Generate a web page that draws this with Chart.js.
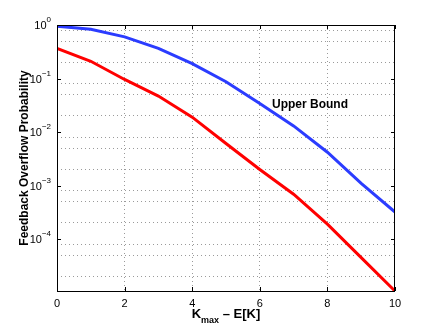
<!DOCTYPE html>
<html>
<head>
<meta charset="utf-8">
<script src="https://cdn.jsdelivr.net/npm/chart.js@4"></script>
<style>
  html, body { margin: 0; padding: 0; background: #fff; }
  canvas { display: block; }
</style>
</head>
<body>
<canvas id="chart" width="436" height="328"></canvas>
<script>
// data
var xValues = [0, 1, 2, 3, 4, 5, 6, 7, 8, 9, 10];
var upperBound = [0.95, 0.83, 0.60, 0.365, 0.19, 0.087, 0.034, 0.013, 0.0042, 0.0011, 0.00032];
var overflowProb = [0.365, 0.21, 0.096, 0.047, 0.019, 0.0061, 0.002, 0.00069, 0.00019, 0.000045, 0.0000107];
var xTicks = [0, 2, 4, 6, 8, 10];
var yDecades = [-4, -3, -2, -1, 0];
var yMin = 0.0000107, yMax = 1;

var FONT = 'Liberation Sans, Arial, Helvetica, sans-serif';

// frame, decade labels, x title, annotation
var extras = {
    id: 'extras',
    afterDraw: function (chart) {
        var c = chart.ctx, a = chart.chartArea, ys = chart.scales.y, xs = chart.scales.x;
        c.save();
        c.strokeStyle = '#000';
        c.lineWidth = 1;
        c.strokeRect(Math.round(a.left) + 0.5, Math.round(a.top) + 0.5,
            Math.round(a.right - a.left) - 1, Math.round(a.bottom - a.top));

        // inward tick marks
        c.beginPath();
        xTicks.forEach(function (t) {
            var px = Math.round(xs.getPixelForValue(t)) + 0.5;
            c.moveTo(px, a.bottom); c.lineTo(px, a.bottom - 4);
            c.moveTo(px, a.top); c.lineTo(px, a.top + 4);
        });
        yDecades.forEach(function (d) {
            var py = Math.round(ys.getPixelForValue(Math.pow(10, d))) + 0.5;
            c.moveTo(a.left, py); c.lineTo(a.left + 4, py);
            c.moveTo(a.right, py); c.lineTo(a.right - 4, py);
        });
        c.stroke();

        // y decade labels 10^n
        c.fillStyle = '#000';
        c.textBaseline = 'middle';
        yDecades.forEach(function (d) {
            var py = ys.getPixelForValue(Math.pow(10, d));
            var exp = d === 0 ? '0' : '\u2212' + (-d);
            c.font = '8px ' + FONT;
            var ew = c.measureText(exp).width;
            c.textAlign = 'right';
            c.fillText(exp, a.left - 6, py - 5);
            c.font = '11px ' + FONT;
            c.fillText('10', a.left - 6 - ew, py + 1);
        });

        // x axis title K_max - E[K]
        c.textAlign = 'left';
        c.textBaseline = 'alphabetic';
        var k = 'K', rest = ' \u2013 E[K]';
        c.font = 'bold 9px ' + FONT;
        var sw = c.measureText('max').width;
        c.font = 'bold 13px ' + FONT;
        var kw = c.measureText(k).width, rw = c.measureText(rest).width;
        var total = kw + sw + rw;
        var x0 = (a.left + a.right) / 2 - total / 2;
        c.fillText(k, x0, 318);
        c.font = 'bold 9px ' + FONT;
        c.fillText('max', x0 + kw, 323);
        c.font = 'bold 13px ' + FONT;
        c.fillText(rest, x0 + kw + sw, 318);

        // annotation
        c.font = 'bold 12px ' + FONT;
        c.textAlign = 'center';
        c.textBaseline = 'middle';
        c.fillText('Upper Bound', 310, 105);
        c.restore();
    }
};

var ctx = document.getElementById('chart').getContext('2d');
var chart = new Chart(ctx, {
    type: 'line',
    data: {
        datasets: [{
            label: 'Upper Bound',
            data: xValues.map(function (x, i) { return { x: x, y: upperBound[i] }; }),
            borderColor: '#2b3cff',
            borderWidth: 3,
            pointRadius: 0,
            fill: false
        }, {
            label: 'Overflow',
            data: xValues.map(function (x, i) { return { x: x, y: overflowProb[i] }; }),
            borderColor: '#ff0000',
            borderWidth: 3,
            pointRadius: 0,
            fill: false
        }]
    },
    options: {
        responsive: false,
        animation: false,
        layout: { padding: { top: 25, right: 41, left: 17, bottom: 0 } },
        plugins: {
            legend: { display: false },
            tooltip: { enabled: false }
        },
        scales: {
            x: {
                type: 'linear',
                min: 0,
                max: 10,
                afterBuildTicks: function (s) {
                    s.ticks = xTicks.map(function (v) { return { value: v }; });
                },
                afterFit: function (s) { s.height = 37; },
                grid: {
                    color: function (c) {
                        return (c.tick && (c.tick.value === 0 || c.tick.value === 10)) ? 'rgba(0,0,0,0)' : '#9a9a9a';
                    },
                    lineWidth: 1,
                    drawTicks: false
                },
                border: { display: false, dash: [1, 3] },
                ticks: {
                    color: '#000',
                    padding: 6,
                    maxRotation: 0,
                    font: { family: FONT, size: 11 }
                }
            },
            y: {
                type: 'logarithmic',
                min: yMin,
                max: yMax,
                afterBuildTicks: function (s) {
                    var t = [];
                    for (var d = -5; d <= 0; d++) {
                        for (var m = 1; m <= 9; m++) {
                            var v = m * Math.pow(10, d);
                            if (v >= yMin && v <= yMax * 1.0001) t.push({ value: v });
                        }
                    }
                    s.ticks = t;
                },
                afterFit: function (s) { s.width = 40; },
                grid: {
                    color: '#9a9a9a',
                    lineWidth: 1,
                    drawTicks: false
                },
                border: { display: false, dash: [1, 3] },
                ticks: {
                    callback: function () { return ''; }
                },
                title: {
                    display: true,
                    text: 'Feedback Overflow Probability',
                    color: '#000',
                    padding: { top: 0, bottom: 4 },
                    font: { family: FONT, size: 12, weight: 'bold' }
                }
            }
        }
    },
    plugins: [extras]
});
</script>
</body>
</html>
